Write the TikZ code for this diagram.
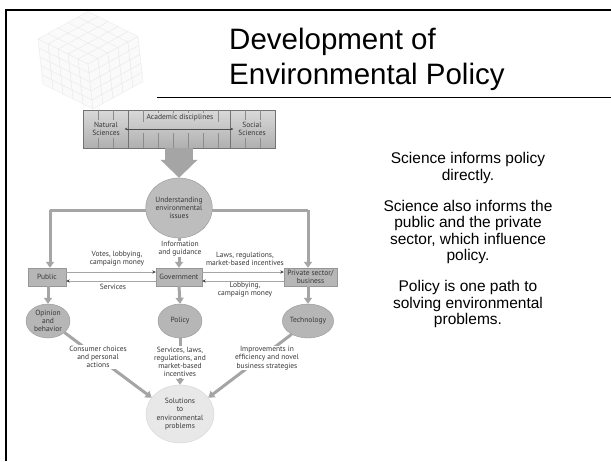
\documentclass[tikz,border=0pt]{standalone}
\usepackage{fontspec}
\setmainfont{Liberation Sans}
\newfontfamily\diagfont{PT Sans}
\usetikzlibrary{shapes.geometric,arrows.meta}
\definecolor{boxfill}{RGB}{182,182,182}
\definecolor{boxline}{RGB}{150,150,150}
\definecolor{connc}{RGB}{165,165,165}
\definecolor{txt}{RGB}{55,55,55}
\definecolor{solfill}{RGB}{232,232,232}
\newcommand{\dfont}{\diagfont\fontsize{7.5}{8.2}\selectfont}
\begin{document}
\begin{tikzpicture}[x=1pt,y=-1pt,
  boxnode/.style={draw=boxline,fill=boxfill,minimum height=18pt,inner sep=0pt,font=\dfont,text=txt,align=center},
  oval/.style={ellipse,draw=boxline,fill=boxfill,inner sep=0pt,minimum width=44pt,minimum height=34pt,font=\dfont,text=txt,align=center},
  conn/.style={draw=connc,line width=3pt,-{Triangle[width=8pt,length=6pt]}},
  thinarr/.style={draw=gray!70,line width=1pt,-{Stealth[length=3.5pt,width=3.2pt,color=black!75]}},
  lbl/.style={font=\dfont,text=txt,align=center,inner sep=0.6pt},
  lblw/.style={lbl,fill=white},
  rtext/.style={font=\fontsize{15.5}{16.6}\selectfont,align=center,inner sep=0pt},
  cell/.style={draw=gray!16,fill=gray!4,line width=0.4pt},
  tick/.style={draw=black!45,line width=0.5pt}]
\useasboundingbox (0,0) rectangle (611,461);
\fill[white] (0,0) rectangle (611,461);

% faint cube in the template corner
\foreach \i in {0,...,4}{\foreach \j in {0,...,4}{
  \pgfmathsetmacro{\tx}{88-10*\i+10*\j}\pgfmathsetmacro{\ty}{64-5*\i-5.5*\j}
  \path[cell] (\tx,\ty) -- ++(-10,-5) -- ++(10,-5.5) -- ++(10,5) -- cycle;
  \pgfmathsetmacro{\lx}{88-10*\i+1*\j}\pgfmathsetmacro{\ly}{64-5*\i+9*\j}
  \path[cell] (\lx,\ly) -- ++(-10,-5) -- ++(1,9) -- ++(10,5) -- cycle;
  \pgfmathsetmacro{\rx}{88+10*\i+1*\j}\pgfmathsetmacro{\ry}{64-5.5*\i+9*\j}
  \path[cell] (\rx,\ry) -- ++(10,-5.5) -- ++(1,9) -- ++(-10,5.5) -- cycle;
}}

% slide frame and title
\draw[line width=2pt] (6,461) -- (6,10) -- (611,10);
\node[anchor=base west,font=\fontsize{29.5}{34}\selectfont,inner sep=0pt] (t1) at (229,49) {Development of};
\node[anchor=base west,font=\fontsize{29.5}{34}\selectfont,inner sep=0pt] (t2) at (229,84) {Environmental Policy};
\draw[line width=1pt] (157,97) -- (611,97);

% academic disciplines band
\node[draw=black!55,top color=gray!30,bottom color=gray!62,minimum width=192pt,minimum height=38pt,inner sep=0pt] (acad) at (179,129) {};
\foreach \x in {98,113,245,260}{\draw[tick] (\x,110) -- (\x,120) (\x,138) -- (\x,148);}
\foreach \x in {143,218}{\draw[tick] (\x,110) -- (\x,122) (\x,133) -- (\x,148);}
\foreach \x in {158,173,188,203}{\draw[tick] (\x,110) -- (\x,113) (\x,133) -- (\x,148);}
\foreach \x in {128,230}{\draw[draw=black!55,line width=0.7pt] (\x,110) -- (\x,148);}
\node[lbl] (nat) at (106,129) {Natural\\Sciences};
\node[lbl] (soc) at (252,129) {Social\\Sciences};
\node[lbl] (acd) at (180,118) {Academic disciplines};
\draw[black!70,line width=0.5pt,{Stealth[length=3pt,width=2.5pt]}-{Stealth[length=3pt,width=2.5pt]}] (nat.east |- 0,129) ++(4,0) -- ([xshift=-4pt]soc.west |- 0,129);

% nodes
\node[ellipse,draw=boxline,fill=boxfill!90!white,minimum width=66pt,minimum height=60pt,inner sep=0pt,font=\dfont,text=txt,align=center] (und) at (179,208) {Understanding\\environmental\\issues};
\draw[draw=connc,line width=28pt,-{Triangle[width=36pt,length=18pt]}] (acad.south) -- (und.north);

\node[boxnode,minimum width=38pt] (pub) at (47,277) {Public};
\node[boxnode,minimum width=46pt] (gov) at (179,277) {Government};
\node[boxnode,minimum width=53pt] (priv) at (310.5,277) {Private sector/\\business};

\node[oval] (op) at (48,321) {Opinion\\and\\behavior};
\node[oval] (pol) at (180,321) {Policy};
\node[oval] (tech) at (308,321) {Technology};

\node[ellipse,fill=solfill,draw=solfill!92!black,minimum width=68pt,minimum height=58pt,inner sep=0pt,font=\dfont,text=txt,align=center] (sol) at (180,414) {Solutions\\to\\environmental\\problems};

% science reaches the public and the private sector
\coordinate (lc) at (50,210);
\coordinate (rc) at (308,210);
\draw[draw=connc,line width=3pt] (und.west |- lc) -- (lc);
\draw[conn] (lc) -- (lc |- pub.north);
\draw[draw=connc,line width=3pt] (und.east |- rc) -- (rc);
\draw[conn] (rc) -- (rc |- priv.north);

\draw[conn] (und.south) -- (gov.north);
\node[lblw] (info) at (180,249) {Information\\and guidance};

% exchanges with government
\draw[thinarr] ([yshift=5pt]pub.east) -- ([yshift=5pt]gov.west);
\draw[thinarr] ([yshift=-4pt]gov.west) -- ([yshift=-4pt]pub.east);
\draw[thinarr] ([yshift=5pt]gov.east) -- ([yshift=5pt]priv.west);
\draw[thinarr] ([yshift=-4pt]priv.west) -- ([yshift=-4pt]gov.east);
\node[lbl] (votes) at (117,259) {Votes, lobbying,\\campaign money};
\node[lbl] (serv) at (113,287) {Services};
\node[lbl] (laws) at (245,259) {Laws, regulations,\\market-based incentives};
\node[lbl] (lobby) at (245,290) {Lobbying,\\campaign money};

% outcomes
\draw[conn] (pub.south -| op.north) -- (op.north);
\draw[conn] (gov.south) -- (pol.north);
\draw[conn] (priv.south -| tech.north) -- (tech.north);

\draw[conn] (op.-35) -- (sol.150);
\draw[conn] (pol.south) -- (sol.north);
\draw[conn] (tech.219) -- (sol.30);
\node[lblw] (cons) at (98,357) {Consumer choices\\and personal\\actions};
\node[lblw] (serv2) at (180,362) {Services, laws,\\regulations, and\\market-based\\incentives};
\node[lblw] (impr) at (267,358) {Improvements in\\efficiency and novel\\business strategies};

% explanatory text
\node[rtext] (p1) at (468,168) {Science informs policy\\directly.};
\node[rtext] (p2) at (468,232) {Science also informs the\\public and the private\\sector, which influence\\policy.};
\node[rtext] (p3) at (468,304) {Policy is one path to\\solving environmental\\problems.};
\end{tikzpicture}
\end{document}
